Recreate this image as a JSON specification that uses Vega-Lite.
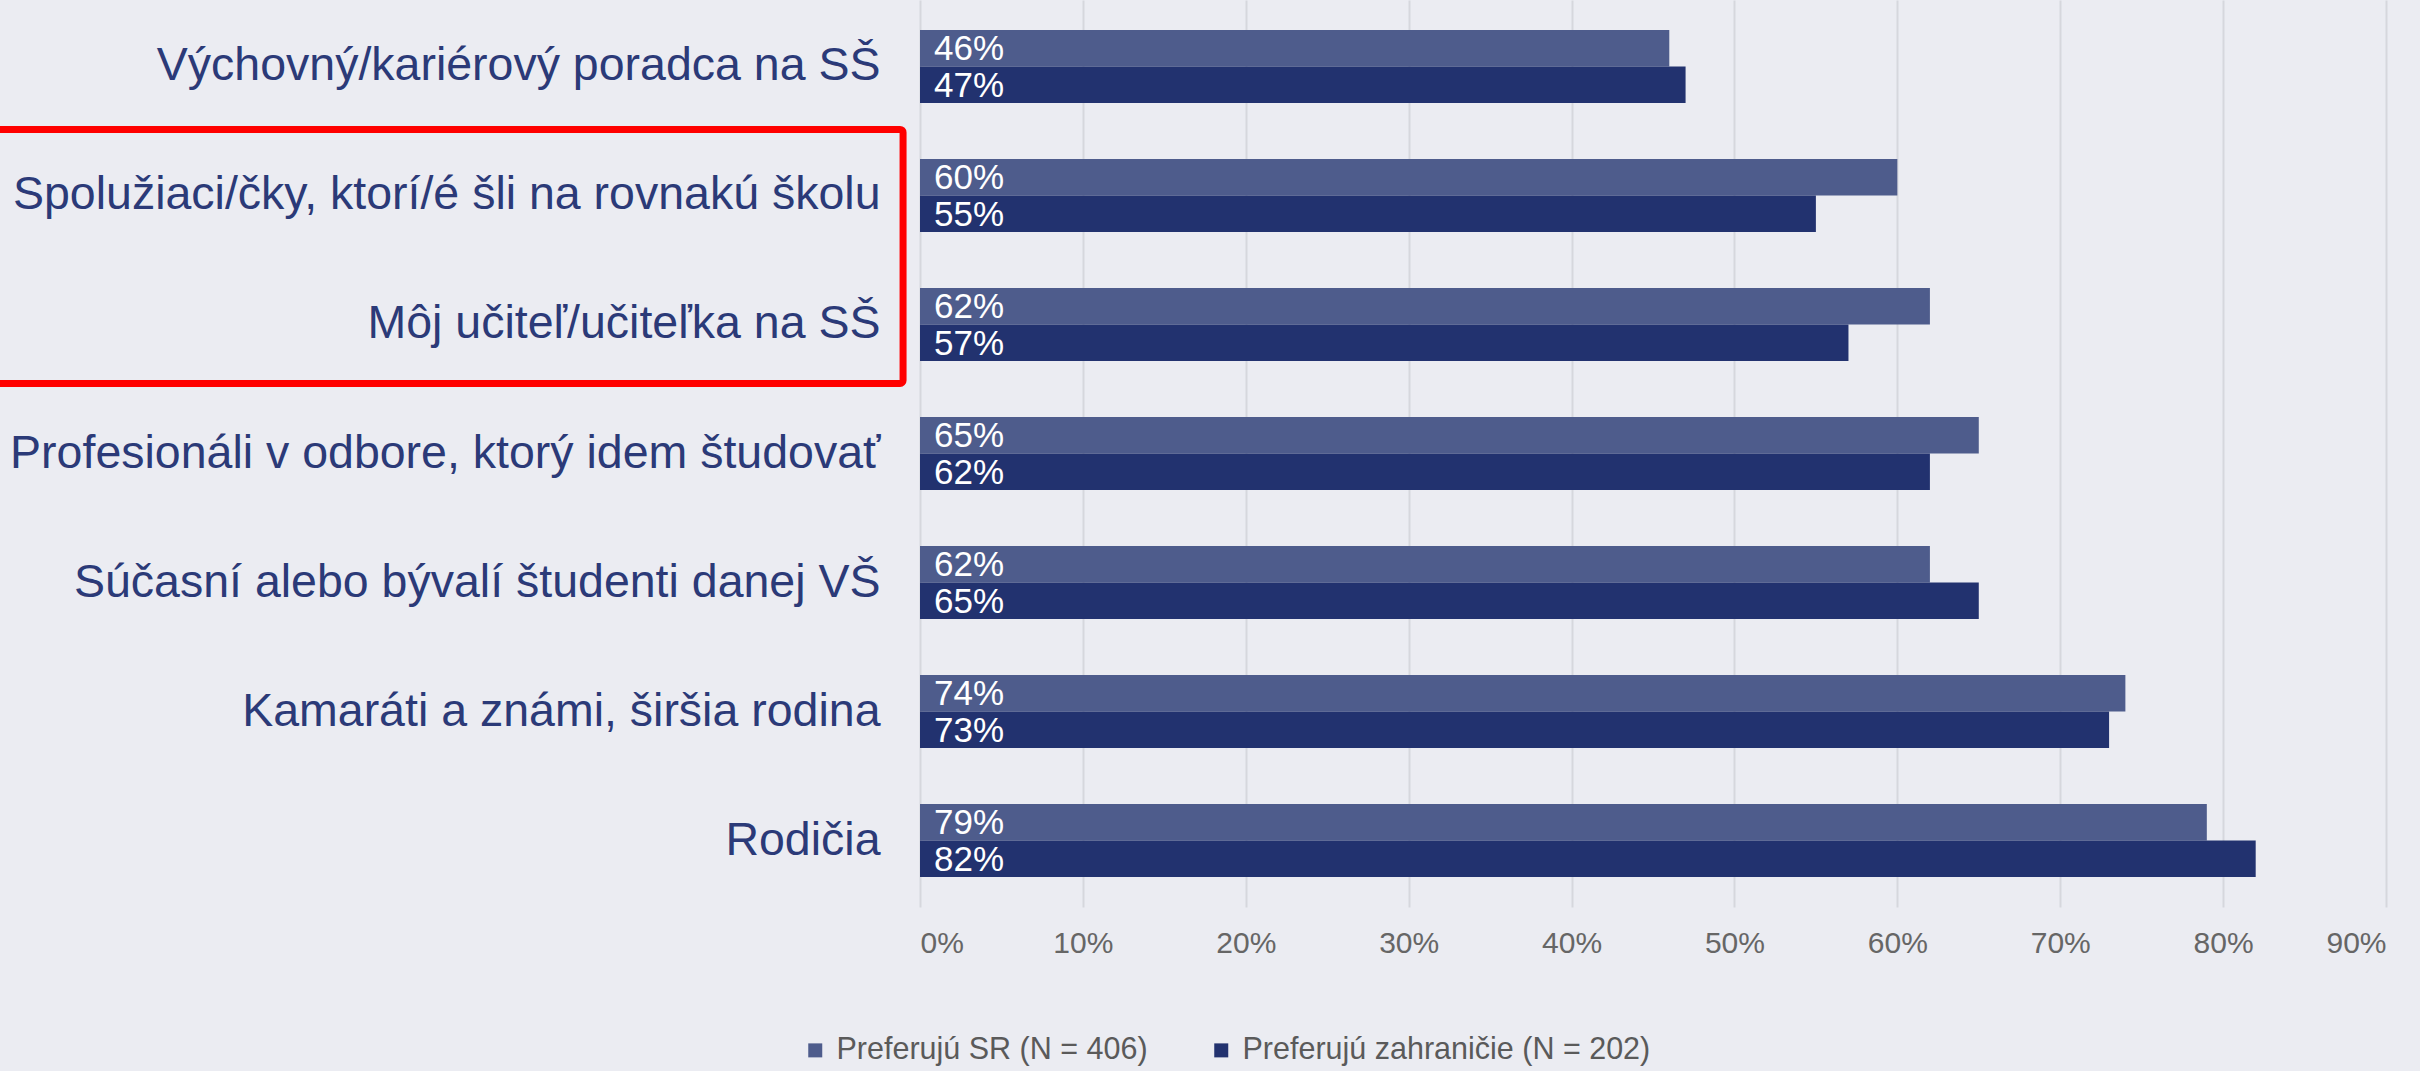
{
  "$schema": "https://vega.github.io/schema/vega-lite/v6.json",
  "autosize": {"type": "none"},
  "padding": {"left": 920, "top": 0, "right": 34, "bottom": 164},
  "width": 1466,
  "height": 907,
  "background": "#EBECF2",
  "config": {
    "view": {"stroke": null},
    "font": "Liberation Sans"
  },
  "datasets": {
    "bars": [
      {"category": "Výchovný/kariérový poradca na SŠ", "series": "Preferujú SR (N = 406)", "value": 0.46},
      {"category": "Výchovný/kariérový poradca na SŠ", "series": "Preferujú zahraničie (N = 202)", "value": 0.47},
      {"category": "Spolužiaci/čky, ktorí/é šli na rovnakú školu", "series": "Preferujú SR (N = 406)", "value": 0.60},
      {"category": "Spolužiaci/čky, ktorí/é šli na rovnakú školu", "series": "Preferujú zahraničie (N = 202)", "value": 0.55},
      {"category": "Môj učiteľ/učiteľka na SŠ", "series": "Preferujú SR (N = 406)", "value": 0.62},
      {"category": "Môj učiteľ/učiteľka na SŠ", "series": "Preferujú zahraničie (N = 202)", "value": 0.57},
      {"category": "Profesionáli v odbore, ktorý idem študovať", "series": "Preferujú SR (N = 406)", "value": 0.65},
      {"category": "Profesionáli v odbore, ktorý idem študovať", "series": "Preferujú zahraničie (N = 202)", "value": 0.62},
      {"category": "Súčasní alebo bývalí študenti danej VŠ", "series": "Preferujú SR (N = 406)", "value": 0.62},
      {"category": "Súčasní alebo bývalí študenti danej VŠ", "series": "Preferujú zahraničie (N = 202)", "value": 0.65},
      {"category": "Kamaráti a známi, širšia rodina", "series": "Preferujú SR (N = 406)", "value": 0.74},
      {"category": "Kamaráti a známi, širšia rodina", "series": "Preferujú zahraničie (N = 202)", "value": 0.73},
      {"category": "Rodičia", "series": "Preferujú SR (N = 406)", "value": 0.79},
      {"category": "Rodičia", "series": "Preferujú zahraničie (N = 202)", "value": 0.82}
    ],
    "box": [
      {"from": "Spolužiaci/čky, ktorí/é šli na rovnakú školu"}
    ]
  },
  "layer": [
    {
      "data": {"name": "bars"},
      "mark": {"type": "bar"},
      "encoding": {
        "y": {
          "field": "category", "type": "nominal", "sort": null,
          "scale": {"paddingInner": 0.434, "paddingOuter": 0.232},
          "axis": {
            "title": null, "ticks": false, "domain": false, "grid": false,
            "labelFontSize": 46.5, "labelColor": "#2B3A78", "labelPadding": 40,
            "labelLimit": 1200, "labelFont": "Liberation Sans"
          }
        },
        "yOffset": {
          "field": "series", "type": "nominal",
          "scale": {"domain": ["Preferujú SR (N = 406)", "Preferujú zahraničie (N = 202)"], "paddingInner": 0, "paddingOuter": 0}
        },
        "x": {
          "field": "value", "type": "quantitative",
          "scale": {"domain": [0, 0.9], "nice": false, "zero": true},
          "axis": {
            "title": null, "format": ".0%", "values": [0, 0.1, 0.2, 0.3, 0.4, 0.5, 0.6, 0.7, 0.8, 0.9],
            "ticks": false, "domain": false, "grid": true, "gridColor": "#D6D7DD", "gridWidth": 2,
            "labelFontSize": 30, "labelColor": "#666666", "labelPadding": 21, "labelFont": "Liberation Sans"
          }
        },
        "color": {
          "field": "series", "type": "nominal",
          "scale": {"domain": ["Preferujú SR (N = 406)", "Preferujú zahraničie (N = 202)"], "range": ["#4E5C8C", "#22326F"]},
          "legend": {
            "title": null, "orient": "none", "direction": "horizontal",
            "legendX": -120, "legendY": 1035,
            "symbolType": "square", "symbolSize": 196, "symbolStrokeWidth": 0,
            "labelFontSize": 30.5, "labelColor": "#5A5A5A", "labelFont": "Liberation Sans",
            "labelOffset": 6, "columnPadding": 58, "labelLimit": 600
          }
        }
      }
    },
    {
      "data": {"name": "bars"},
      "mark": {"type": "text", "align": "left", "baseline": "middle", "dx": 14, "dy": 1, "color": "#FFFFFF", "fontSize": 35, "font": "Liberation Sans"},
      "encoding": {
        "y": {"field": "category", "type": "nominal", "sort": null},
        "yOffset": {"field": "series", "type": "nominal"},
        "x": {"datum": 0, "type": "quantitative"},
        "text": {"field": "value", "type": "quantitative", "format": ".0%"}
      }
    },
    {
      "data": {"name": "box"},
      "mark": {"type": "rect", "fill": null, "fillOpacity": 0, "stroke": "#FF0000", "strokeWidth": 7, "cornerRadius": 3, "height": 254, "yOffset": 61},
      "encoding": {
        "y": {"field": "from", "type": "nominal", "sort": null},
        "x": {"datum": -0.57, "type": "quantitative"},
        "x2": {"datum": -0.0104}
      }
    }
  ]
}
